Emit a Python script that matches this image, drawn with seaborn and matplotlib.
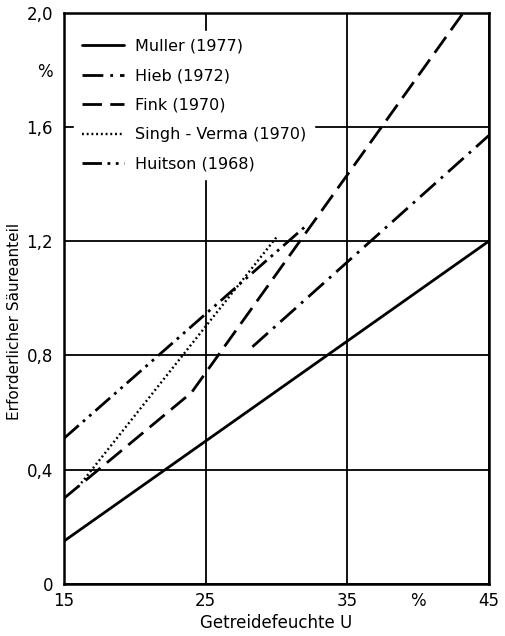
import numpy as np
import pandas as pd
import seaborn as sns
import matplotlib.pyplot as plt
from matplotlib.ticker import FixedLocator

studies = ["Muller (1977)", "Hieb (1972)", "Fink (1970)", "Singh - Verma (1970)", "Huitson (1968)"]
muller_x = [15, 45]
muller_y = [0.15, 1.20]
hieb_x = [28.3, 45]
hieb_y = [0.83, 1.57]
fink_x = [15, 24, 43.2]
fink_y = [0.30, 0.67, 2.0]
singh_x = [16, 30.1]
singh_y = [0.34, 1.22]
huitson_x = [15, 32]
huitson_y = [0.51, 1.25]

x_ticks = [15, 25, 35, 45]
x_tick_labels = ["15", "25", "35", "45"]
y_ticks = [0, 0.4, 0.8, 1.2, 1.6, 2.0]
y_tick_labels = ["0", "0,4", "0,8", "1,2", "1,6", "2,0"]

rows = []
for name, xs, ys in zip(studies,
                        [muller_x, hieb_x, fink_x, singh_x, huitson_x],
                        [muller_y, hieb_y, fink_y, singh_y, huitson_y]):
    for i, (a, b) in enumerate(zip(xs, ys)):
        rows.append({"study": name, "order": i, "U": a, "anteil": b})
df = pd.DataFrame(rows)

sns.set_style("white")
plt.rcParams['font.family'] = ['DejaVu Sans']
plt.rcParams['text.color'] = 'black'
plt.rcParams['axes.labelcolor'] = 'black'

fig = plt.figure(figsize=(5.05, 6.36), dpi=100)
ax = fig.add_axes([0.127, 0.082, 0.841, 0.898])

dashes = {
    "Muller (1977)": "",
    "Hieb (1972)": (7.5, 2.5, 1, 2.5),
    "Fink (1970)": (7, 3),
    "Singh - Verma (1970)": (0.8, 1.2),
    "Huitson (1968)": (7, 2, 1, 2, 1, 2),
}
widths = {"Muller (1977)": 2.0, "Hieb (1972)": 2.0, "Fink (1970)": 2.0,
          "Singh - Verma (1970)": 1.7, "Huitson (1968)": 2.0}

for name in studies:
    sub = df[df.study == name]
    sns.lineplot(data=sub, x="U", y="anteil", ax=ax, color="black", sort=False,
                 estimator=None, lw=widths[name], label=name,
                 dashes=False)
    line = ax.lines[-1]
    if dashes[name]:
        line.set_dashes(dashes[name])

ax.set_xlim(15, 45)
ax.set_ylim(0, 2.0)
ax.xaxis.set_major_locator(FixedLocator(x_ticks))
ax.set_xticklabels(x_tick_labels)
ax.xaxis.set_minor_locator(FixedLocator([40]))
ax.set_xticklabels(["%"], minor=True)
ax.yaxis.set_major_locator(FixedLocator(y_ticks))
ax.set_yticklabels(y_tick_labels)
ax.yaxis.set_minor_locator(FixedLocator([1.8]))
ax.set_yticklabels(["%"], minor=True)
ax.tick_params(which="both", labelsize=12, colors="black")
ax.tick_params(axis="x", which="both", length=0, pad=6)
ax.tick_params(axis="y", which="major", length=5, width=1.3, pad=3)
ax.tick_params(axis="y", which="minor", length=0, pad=8)

ax.grid(True, which="major", color="black", lw=1.3)
for s in ax.spines.values():
    s.set_color("black")
    s.set_linewidth(1.8)

ax.set_xlabel("Getreidefeuchte U", fontsize=12, labelpad=3)
ax.set_ylabel("Erforderlicher Säureanteil", fontsize=11)
ax.yaxis.set_label_coords(-0.099, 0.459)

leg = ax.legend(loc="upper left", bbox_to_anchor=(0.005, 0.982), frameon=True,
                fontsize=11.5, handlelength=2.6, labelspacing=0.9,
                borderpad=0.5, handletextpad=0.7)
leg.get_frame().set_facecolor("white")
leg.get_frame().set_edgecolor("white")
leg.get_frame().set_alpha(1)
for h, name in zip(leg.get_lines(), studies):
    if dashes[name]:
        h.set_dashes(dashes[name])

fig.savefig("out.png", dpi=100, facecolor="white")
